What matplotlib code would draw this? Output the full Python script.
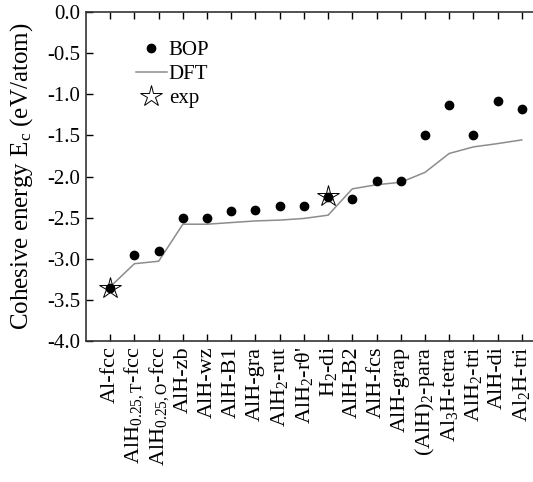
import matplotlib.pyplot as plt
import numpy as np

plt.rcParams['font.family'] = 'Liberation Serif'
plt.rcParams['mathtext.fontset'] = 'custom'
plt.rcParams['mathtext.rm'] = 'Liberation Serif'
plt.rcParams['mathtext.it'] = 'Liberation Serif:italic'

# structures, in order of increasing cohesive energy
structures = ['Al-fcc', r'AlH$_{\mathrm{0.25,T}}$-fcc', r'AlH$_{\mathrm{0.25,O}}$-fcc',
              'AlH-zb', 'AlH-wz', 'AlH-B1', 'AlH-gra', r'AlH$_2$-rut',
              r"AlH$_2$-r$\mathrm{\theta}$'", r'H$_2$-di', 'AlH-B2', 'AlH-fcs',
              'AlH-grap', r'(AlH)$_2$-para', r'Al$_3$H-tetra', r'AlH$_2$-tri',
              'AlH-di', r'Al$_2$H-tri']

# BOP cohesive energies (eV/atom)
bop = [-3.35, -2.95, -2.91, -2.50, -2.50, -2.42, -2.41, -2.36, -2.36,
       -2.25, -2.27, -2.06, -2.06, -1.49, -1.13, -1.50, -1.08, -1.18]

# DFT cohesive energies (eV/atom)
dft = [-3.34, -3.06, -3.03, -2.58, -2.58, -2.56, -2.54, -2.53, -2.51,
       -2.47, -2.15, -2.10, -2.07, -1.95, -1.72, -1.64, -1.60, -1.555]

# experimental values
exp_idx = [0, 9]
exp_val = [-3.36, -2.24]

x = np.arange(1, len(structures) + 1)

fig = plt.figure(figsize=(5.33, 4.82), dpi=100)
ax = fig.add_axes([0.1614, 0.2925, 0.863, 0.6826])

l_dft, = ax.plot(x, dft, color='#8c8c8c', lw=1.1, zorder=1)
l_bop, = ax.plot(x, bop, 'o', color='black', ms=6, zorder=3)
l_exp, = ax.plot(x[exp_idx], exp_val, '*', ms=16, mfc='none', mec='black', mew=0.7, zorder=2)

ax.legend([l_bop, l_dft, l_exp], ['BOP', 'DFT', 'exp'], loc='upper left',
          bbox_to_anchor=(0.085, 0.945), frameon=False, fontsize=15,
          handlelength=1.5, handletextpad=0.1, labelspacing=0.22, borderpad=0)

ax.set_xlim(0, 19)
ax.set_ylim(-4.0, 0.0)
ax.set_yticks(np.arange(-4.0, 0.01, 0.5))
ax.set_yticklabels(['%.1f' % v for v in np.arange(-4.0, 0.01, 0.5)])
ax.set_xticks(x)
ax.set_xticklabels(structures, rotation=90, fontsize=16)
ax.tick_params(axis='y', labelsize=15)
ax.tick_params(direction='in', top=True, length=5, width=1, pad=4)
ax.set_ylabel(r'Cohesive energy E$_\mathrm{c}$ (eV/atom)', fontsize=18, labelpad=9)

for s in ax.spines.values():
    s.set_linewidth(1.2)
    s.set_color('#333333')

plt.savefig('out.png', dpi=100)
